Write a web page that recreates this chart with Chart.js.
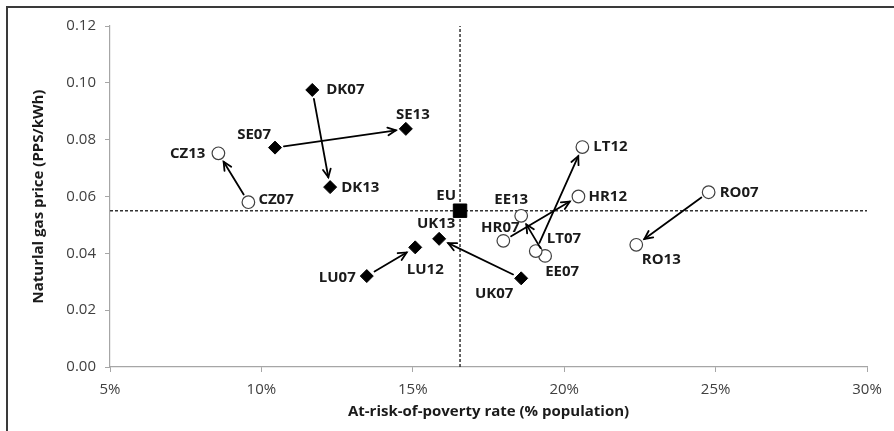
<!DOCTYPE html>
<html><head><meta charset="utf-8">
<script src="https://cdn.jsdelivr.net/npm/chart.js@4.4.1/dist/chart.umd.min.js"></script>
<style>
html,body{margin:0;padding:0;background:#fff;}
#wrap{position:relative;width:894px;height:431px;overflow:hidden;}
#frame{position:absolute;left:6px;top:6px;right:-4px;bottom:-4px;border-top:2px solid #3a3a3a;border-left:2px solid #3a3a3a;}
canvas{position:absolute;left:0;top:0;}
</style></head><body>
<div id="wrap"><div id="frame"></div><canvas id="c" width="894" height="431"></canvas></div>
<script>
// ---- data ----
const diamondLabels = ['DK07','DK13','SE07','SE13','LU07','LU12','UK07','UK13'];
const diamondRate   = [11.68, 12.27, 10.45, 14.77, 13.48, 15.08, 18.58, 15.87];
const diamondPrice  = [0.0975, 0.0633, 0.0772, 0.0838, 0.0320, 0.0421, 0.0312, 0.0451];

const circleLabels = ['CZ07','CZ13','EE07','EE13','HR07','HR12','LT07','LT12','RO07','RO13'];
const circleRate   = [9.57, 8.58, 19.37, 18.58, 17.99, 20.47, 19.06, 20.60, 24.77, 22.38];
const circlePrice  = [0.0580, 0.0752, 0.0391, 0.0532, 0.0444, 0.0600, 0.0408, 0.0774, 0.0615, 0.0430];

const euLabel = ['EU'];
const euRate  = [16.56];
const euPrice = [0.0550];

const moves = [['CZ07','CZ13'],['SE07','SE13'],['DK07','DK13'],['LU07','LU12'],['UK07','UK13'],
               ['HR07','HR12'],['EE07','EE13'],['LT07','LT12'],['RO07','RO13']];

const xTicks = [5,10,15,20,25,30];
const yTicks = [0,0.02,0.04,0.06,0.08,0.10,0.12];
const xTitle = 'At-risk-of-poverty rate (% population)';
const yTitle = 'Naturlal gas price (PPS/kWh)';

// ---- label placement (style) ----
const labelStyle = {
  CZ13:{dx:-13,dy:0,a:'right'}, CZ07:{dx:10,dy:-2,a:'left'}, SE07:{dx:-4,dy:-13,a:'right'},
  DK07:{dx:14,dy:0,a:'left'}, SE13:{dx:7,dy:-14,a:'center'}, DK13:{dx:11,dy:1,a:'left'},
  EU:{dx:-4,dy:-15,a:'right'}, UK13:{dx:-3,dy:-15,a:'center'}, LU12:{dx:10,dy:22,a:'center'},
  LU07:{dx:-11,dy:2,a:'right'}, UK07:{dx:-27,dy:15,a:'center'}, LT12:{dx:11,dy:0,a:'left'},
  HR12:{dx:10,dy:0,a:'left'}, EE13:{dx:-10,dy:-16,a:'center'}, HR07:{dx:-3,dy:-13,a:'center'},
  LT07:{dx:11,dy:-12,a:'left'}, EE07:{dx:17,dy:16,a:'center'}, RO07:{dx:11,dy:0,a:'left'},
  RO13:{dx:25,dy:15,a:'center'}
};

const FONT = "'Open Sans', 'DejaVu Sans', sans-serif";

function pts(labels, xs, ys){ return labels.map((l,i)=>({x:xs[i], y:ys[i], label:l})); }

const allPts = {};
[[diamondLabels,diamondRate,diamondPrice],[circleLabels,circleRate,circlePrice],[euLabel,euRate,euPrice]]
  .forEach(([l,x,y])=>l.forEach((n,i)=>allPts[n]={x:x[i],y:y[i]}));

const overlay = {
  id:'overlay',
  afterDatasetsDraw(chart){
    const ctx = chart.ctx, xs = chart.scales.x, ys = chart.scales.y;
    ctx.save();
    // arrows
    ctx.strokeStyle = '#000'; ctx.lineWidth = 1.8; ctx.lineCap='round';
    moves.forEach(([a,b])=>{
      const x1 = xs.getPixelForValue(allPts[a].x), y1 = ys.getPixelForValue(allPts[a].y);
      const x2 = xs.getPixelForValue(allPts[b].x), y2 = ys.getPixelForValue(allPts[b].y);
      const ang = Math.atan2(y2-y1, x2-x1);
      const g1 = 9, g2 = 10;
      const sx = x1+Math.cos(ang)*g1, sy = y1+Math.sin(ang)*g1;
      const ex = x2-Math.cos(ang)*g2, ey = y2-Math.sin(ang)*g2;
      ctx.beginPath(); ctx.moveTo(sx,sy); ctx.lineTo(ex,ey); ctx.stroke();
      const h = 9, w = 0.45;
      ctx.beginPath();
      ctx.moveTo(ex-Math.cos(ang-w)*h, ey-Math.sin(ang-w)*h);
      ctx.lineTo(ex,ey);
      ctx.lineTo(ex-Math.cos(ang+w)*h, ey-Math.sin(ang+w)*h);
      ctx.stroke();
    });
    // labels
    ctx.font = "bold 15px " + FONT;
    ctx.fillStyle = '#1a1a1a';
    ctx.textBaseline = 'middle';
    Object.keys(allPts).forEach(n=>{
      const s = labelStyle[n]; if(!s) return;
      const px = xs.getPixelForValue(allPts[n].x), py = ys.getPixelForValue(allPts[n].y);
      ctx.textAlign = s.a;
      ctx.fillText(n, px+s.dx, py+s.dy);
    });
    ctx.restore();
  }
};

new Chart(document.getElementById('c'), {
  type:'scatter',
  data:{datasets:[
    {label:'diamonds', data:pts(diamondLabels,diamondRate,diamondPrice), pointStyle:'rectRot',
     pointRadius:6.5, backgroundColor:'#000', borderColor:'#000', borderWidth:1, order:0},
    {label:'circles', data:pts(circleLabels,circleRate,circlePrice), pointStyle:'circle',
     pointRadius:6.3, backgroundColor:'#fff', borderColor:'#404040', borderWidth:1.2, order:0},
    {label:'EU', data:pts(euLabel,euRate,euPrice), pointStyle:'rect',
     pointRadius:9.5, backgroundColor:'#000', borderColor:'#000', borderWidth:1, order:0},
    {type:'line', label:'EU price', data:[{x:xTicks[0],y:euPrice[0]},{x:xTicks[xTicks.length-1],y:euPrice[0]}],
     borderColor:'#333', borderWidth:1.5, borderDash:[3,2], pointRadius:0, order:2},
    {type:'line', label:'EU rate', data:[{x:euRate[0],y:yTicks[0]},{x:euRate[0],y:yTicks[yTicks.length-1]}],
     borderColor:'#333', borderWidth:1.5, borderDash:[3,2], pointRadius:0, order:2}
  ]},
  options:{
    responsive:false, animation:false,
    layout:{padding:{left:0,right:27,top:26,bottom:0}},
    plugins:{legend:{display:false}, tooltip:{enabled:false}},
    scales:{
      x:{type:'linear', min:xTicks[0], max:xTicks[xTicks.length-1],
         afterBuildTicks:s=>{s.ticks = xTicks.map(v=>({value:v}));},
         afterFit:s=>{s.height = 64;},
         ticks:{callback:v=>v+'%', color:'#404040', font:{family:FONT,size:15}, padding:9, maxRotation:0},
         grid:{drawOnChartArea:false, drawTicks:true, tickLength:5, color:'#a6a6a6'},
         border:{color:'#a6a6a6', width:1.2},
         title:{display:true, text:xTitle, color:'#1a1a1a', font:{family:FONT,size:15,weight:'bold'}, padding:{top:0,bottom:10}}
      },
      y:{type:'linear', min:yTicks[0], max:yTicks[yTicks.length-1],
         afterBuildTicks:s=>{s.ticks = yTicks.map(v=>({value:v}));},
         afterFit:s=>{s.width = 110;},
         ticks:{callback:v=>Number(v).toFixed(2), color:'#404040', font:{family:FONT,size:15}, padding:9},
         grid:{drawOnChartArea:false, drawTicks:true, tickLength:5, color:'#a6a6a6'},
         border:{color:'#a6a6a6', width:1.2},
         title:{display:true, text:yTitle, color:'#1a1a1a', font:{family:FONT,size:15,weight:'bold'}, padding:{top:30,bottom:0}}
      }
    }
  },
  plugins:[overlay]
});
</script>
</body></html>
